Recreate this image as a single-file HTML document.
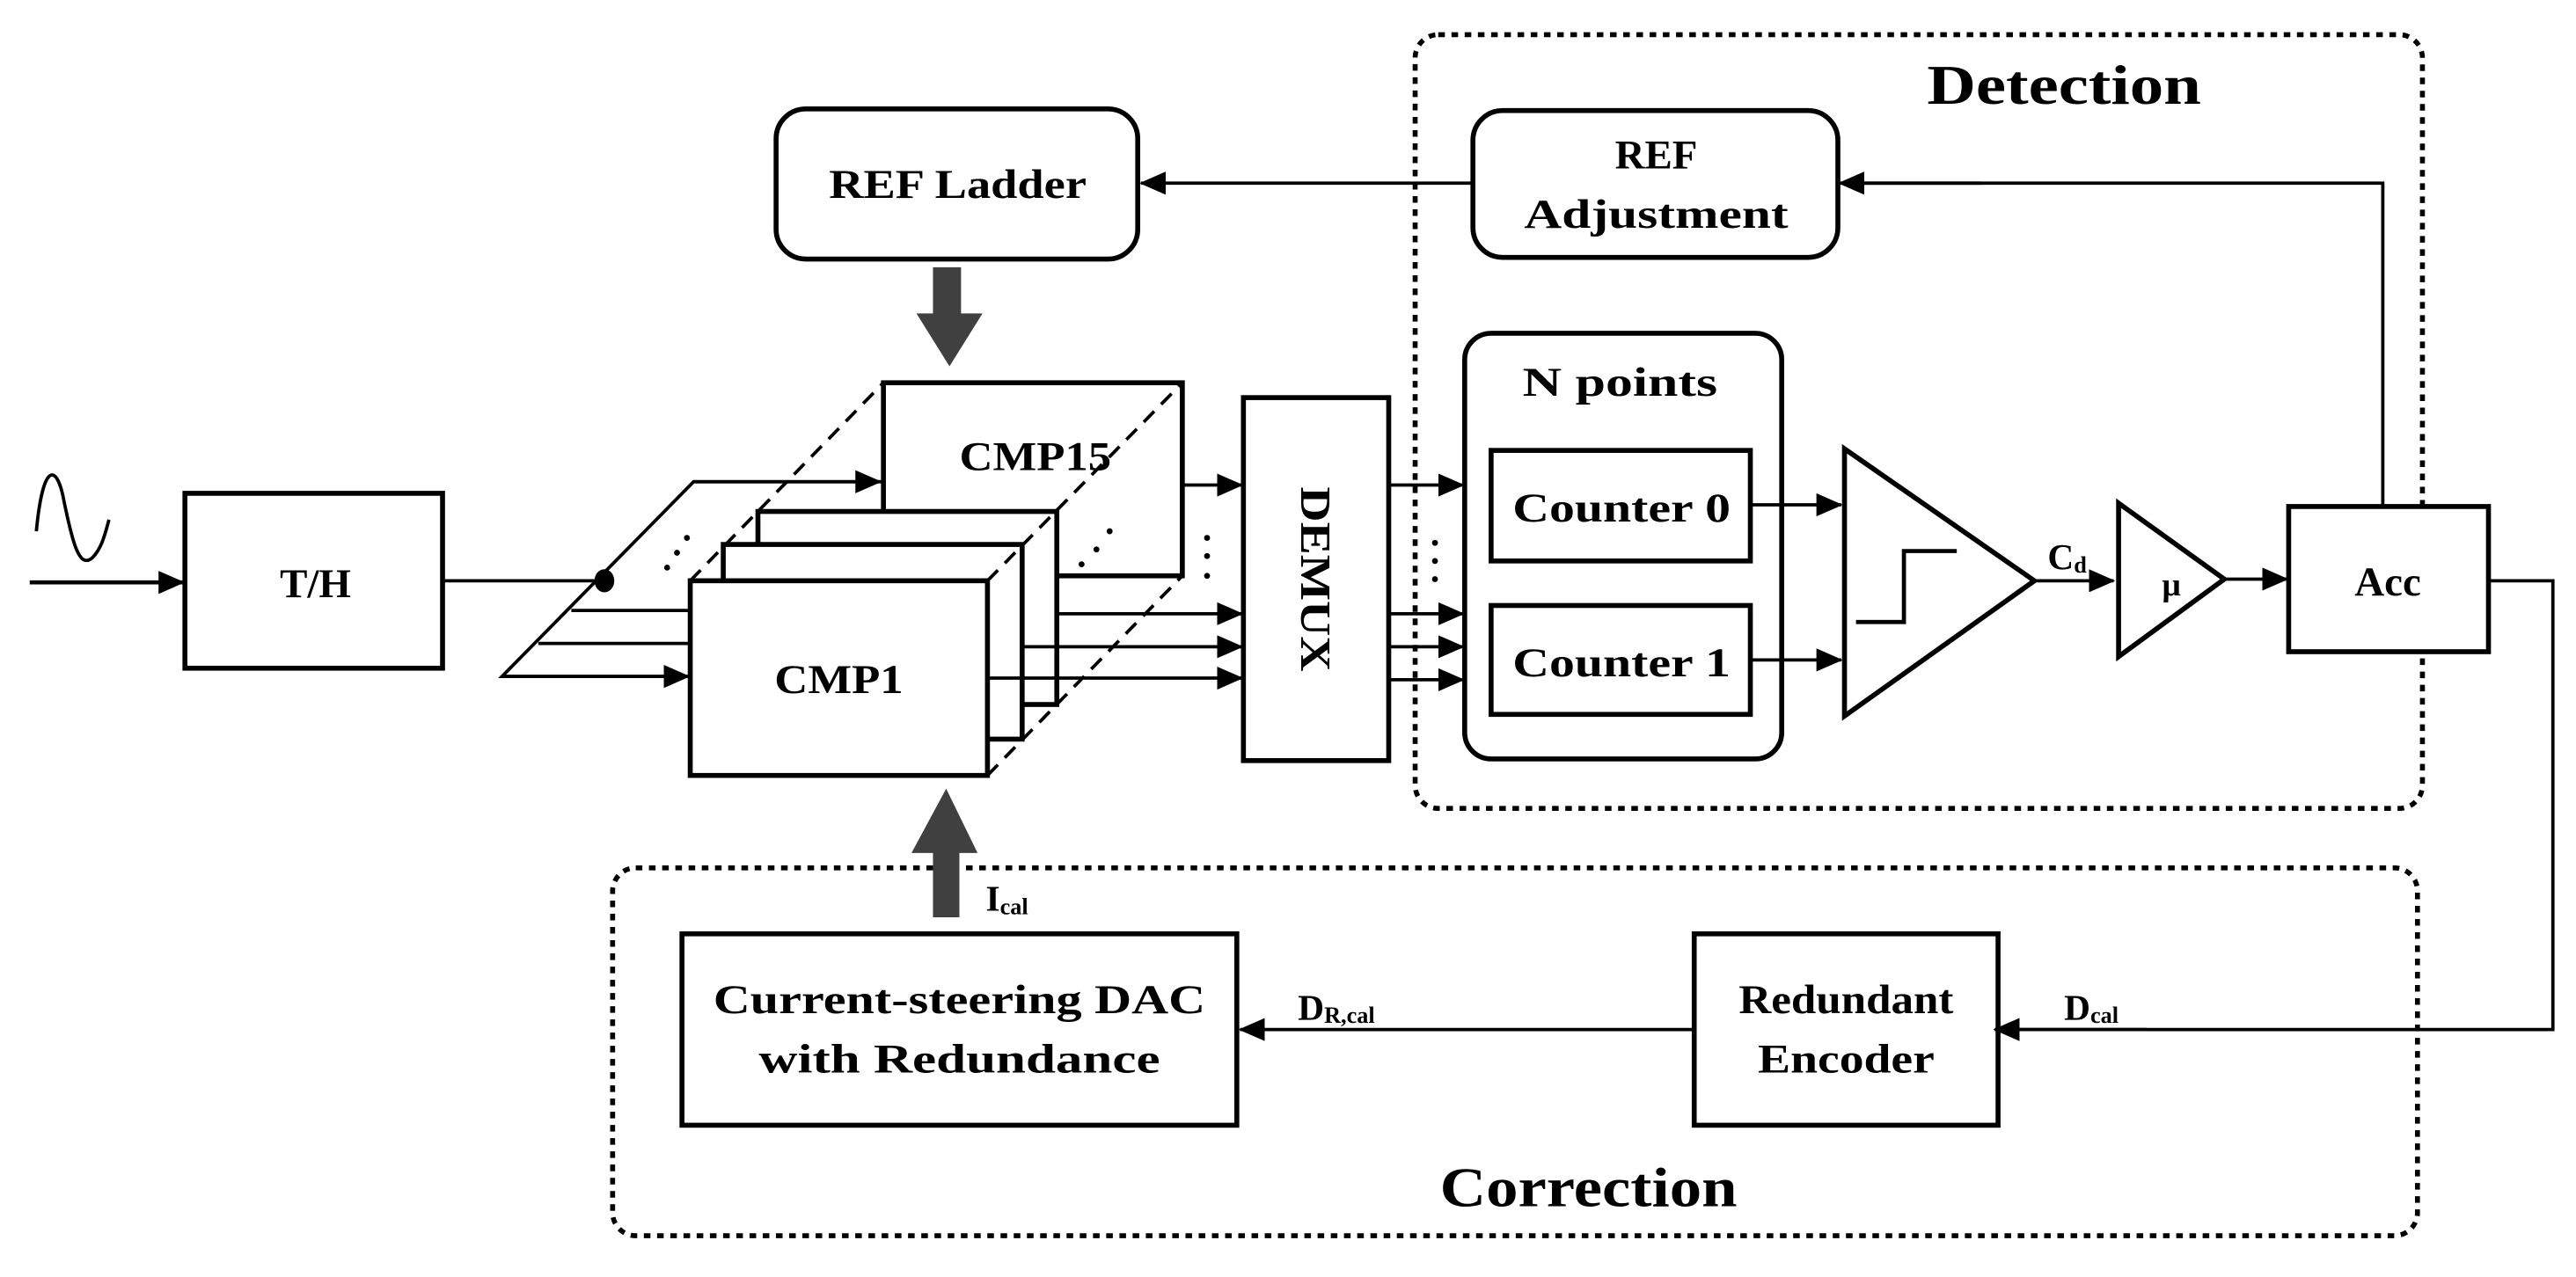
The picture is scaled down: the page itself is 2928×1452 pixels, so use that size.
<!DOCTYPE html>
<html><head><meta charset="utf-8"><style>
html,body{margin:0;padding:0;background:#fff;}
svg{display:block;}
text{font-family:"Liberation Serif",serif;font-weight:bold;fill:#000;}
</style></head><body>
<svg width="2928" height="1452" viewBox="0 0 1560 774" preserveAspectRatio="none" xmlns="http://www.w3.org/2000/svg">
<defs>
<marker id="ah2" markerWidth="16" markerHeight="16" refX="15" refY="8" orient="auto" markerUnits="userSpaceOnUse">
<path d="M0,1 L16,8 L0,15 Z" fill="#000"/></marker>
</defs>
<g fill="none" stroke="#000" stroke-width="3">
<rect x="857" y="21" width="610" height="469" rx="14" stroke-dasharray="4 4"/>
<rect x="371" y="526" width="1093" height="223" rx="14" stroke-dasharray="4 4"/>
<path d="M22,322 C26,280 34,282 38,300 C44,330 48,345 56,338 C62,332 64,322 66,315" stroke-width="2"/>
<line x1="18" y1="353" x2="111" y2="353" stroke-width="2.5" marker-end="url(#ah2)"/>
<rect x="112" y="299" width="156" height="106"/>
<line x1="268" y1="352" x2="364" y2="352" stroke-width="2"/>
<polyline points="534,292 420,292 304,410 416,410" stroke-width="2"/>
<line x1="420" y1="292" x2="533" y2="292" stroke-width="2" marker-end="url(#ah2)"/>
<line x1="304" y1="410" x2="417" y2="410" stroke-width="2" marker-end="url(#ah2)"/>
<line x1="346" y1="370" x2="418" y2="370" stroke-width="2"/>
<line x1="326" y1="390" x2="418" y2="390" stroke-width="2"/>
<rect x="535" y="232" width="181" height="117" fill="#fff"/>
<rect x="459" y="310" width="181" height="117" fill="#fff"/>
<rect x="438" y="330" width="181" height="118" fill="#fff"/>
<rect x="418" y="352" width="180" height="118" fill="#fff"/>
<g stroke-dasharray="9 6" stroke-width="2">
<line x1="418" y1="352" x2="535" y2="232"/>
<line x1="598" y1="352" x2="716" y2="232"/>
<line x1="598" y1="470" x2="716" y2="349"/>
</g>
<g stroke-width="2">
<line x1="716" y1="294" x2="752" y2="294" marker-end="url(#ah2)"/>
<line x1="640" y1="372" x2="752" y2="372" marker-end="url(#ah2)"/>
<line x1="619" y1="392" x2="752" y2="392" marker-end="url(#ah2)"/>
<line x1="598" y1="411" x2="752" y2="411" marker-end="url(#ah2)"/>
<line x1="841" y1="294" x2="886" y2="294" marker-end="url(#ah2)"/>
<line x1="841" y1="372" x2="886" y2="372" marker-end="url(#ah2)"/>
<line x1="841" y1="392" x2="886" y2="392" marker-end="url(#ah2)"/>
<line x1="841" y1="412" x2="886" y2="412" marker-end="url(#ah2)"/>
</g>
<rect x="753" y="241" width="88" height="220"/>
<rect x="470" y="66" width="219" height="91" rx="18"/>
<rect x="892" y="67" width="221" height="89" rx="18"/>
<line x1="892" y1="111" x2="691" y2="111" stroke-width="2" marker-end="url(#ah2)"/>
<polyline points="1443,306 1443,111 1125,111" stroke-width="2"/>
<line x1="1200" y1="111" x2="1114" y2="111" stroke-width="2" marker-end="url(#ah2)"/>
<rect x="887" y="202" width="192" height="258" rx="16"/>
<rect x="903" y="273" width="157" height="67"/>
<rect x="903" y="367" width="157" height="66"/>
<line x1="1060" y1="306" x2="1115" y2="306" stroke-width="2" marker-end="url(#ah2)"/>
<line x1="1060" y1="400" x2="1115" y2="400" stroke-width="2" marker-end="url(#ah2)"/>
<path d="M1117,272 L1232,352 L1117,434 Z"/>
<polyline points="1124,377 1153,377 1153,334 1185,334" stroke-width="2.5"/>
<line x1="1232" y1="352" x2="1280" y2="352" stroke-width="2" marker-end="url(#ah2)"/>
<path d="M1283,305 L1347,351 L1283,398 Z"/>
<line x1="1347" y1="351" x2="1385" y2="351" stroke-width="2" marker-end="url(#ah2)"/>
<rect x="1386" y="307" width="121" height="88" fill="#fff"/>
<polyline points="1507,352 1546,352 1546,624 1216,624" stroke-width="2"/>
<line x1="1300" y1="624" x2="1208" y2="624" stroke-width="2" marker-end="url(#ah2)"/>
<rect x="1026" y="566" width="184" height="116"/>
<rect x="413" y="566" width="336" height="116"/>
<line x1="1026" y1="624" x2="751" y2="624" stroke-width="2" marker-end="url(#ah2)"/>
</g>
<path d="M565,162 H582 V190 H595 L575,222 L555,190 H565 Z" fill="#404040"/>
<path d="M565,556 H581 V517 H592 L573,478 L552,517 H565 Z" fill="#404040"/>
<ellipse cx="366" cy="352" rx="6" ry="7" fill="#000"/>
<g fill="#000">
<circle cx="404" cy="344" r="1.8"/><circle cx="410" cy="335" r="1.8"/><circle cx="416" cy="326" r="1.8"/>
<circle cx="655" cy="342" r="1.8"/><circle cx="664" cy="333" r="1.8"/><circle cx="672" cy="322" r="1.8"/>
<circle cx="731" cy="326" r="1.8"/><circle cx="731" cy="337" r="1.8"/><circle cx="731" cy="349" r="1.8"/>
<circle cx="869" cy="329" r="1.8"/><circle cx="869" cy="340" r="1.8"/><circle cx="869" cy="351" r="1.8"/>
</g>
<g font-size="25" text-anchor="middle">
<text x="191" y="362">T/H</text>
<text x="580" y="120" textLength="156" lengthAdjust="spacingAndGlyphs">REF Ladder</text>
<text x="1003" y="102">REF</text>
<text x="1003" y="138" textLength="160" lengthAdjust="spacingAndGlyphs">Adjustment</text>
<text x="627" y="285" textLength="92" lengthAdjust="spacingAndGlyphs">CMP15</text>
<text x="508" y="420" textLength="78" lengthAdjust="spacingAndGlyphs">CMP1</text>
<text x="981" y="240" textLength="118" lengthAdjust="spacingAndGlyphs">N points</text>
<text x="982" y="316" textLength="132" lengthAdjust="spacingAndGlyphs">Counter 0</text>
<text x="982" y="410" textLength="132" lengthAdjust="spacingAndGlyphs">Counter 1</text>
<text x="1446" y="361">Acc</text>
<text x="1315" y="361" font-size="20">μ</text>
<text x="581" y="614" textLength="298" lengthAdjust="spacingAndGlyphs">Current-steering DAC</text>
<text x="581" y="650" textLength="243" lengthAdjust="spacingAndGlyphs">with  Redundance</text>
<text x="1118" y="614" textLength="130" lengthAdjust="spacingAndGlyphs">Redundant</text>
<text x="1118" y="650" textLength="107" lengthAdjust="spacingAndGlyphs">Encoder</text>
<text x="1250" y="63" font-size="34" textLength="166" lengthAdjust="spacingAndGlyphs">Detection</text>
<text x="962" y="731" font-size="34" textLength="180" lengthAdjust="spacingAndGlyphs">Correction</text>
<text x="797" y="360" font-size="26" transform="rotate(90 797 351)" textLength="112" lengthAdjust="spacingAndGlyphs">DEMUX</text>
</g>
<g font-size="22">
<text x="1240" y="345">C<tspan font-size="14" dy="2">d</tspan></text>
<text x="597" y="552">I<tspan font-size="14" dy="2">cal</tspan></text>
<text x="786" y="618">D<tspan font-size="14" dy="2">R,cal</tspan></text>
<text x="1250" y="618">D<tspan font-size="14" dy="2">cal</tspan></text>
</g>
</svg>
</body></html>
